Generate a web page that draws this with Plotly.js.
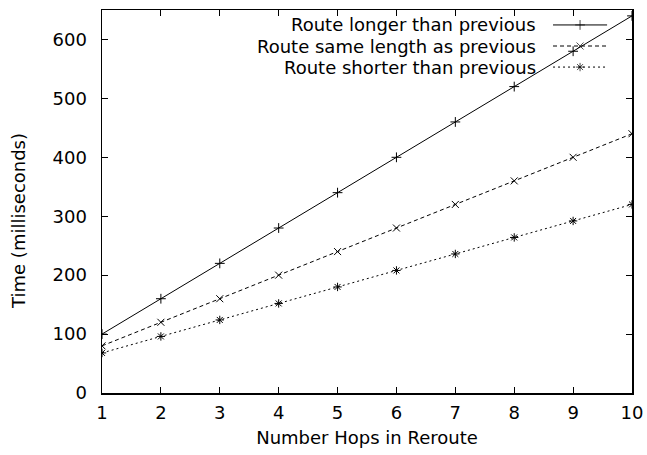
<!DOCTYPE html>
<html>
<head>
<meta charset="utf-8">
<script src="https://cdn.plot.ly/plotly-3.0.1.min.js"></script>
<style>html,body{margin:0;padding:0;background:#fff;}#chart{width:647px;height:455px;}</style>
</head>
<body>
<div id="chart"></div>
<script>
var hops = [1, 2, 3, 4, 5, 6, 7, 8, 9, 10];
var longerTimes = [100, 160, 220, 280, 340, 400, 460, 520, 580, 640];
var sameTimes = [80, 120, 160, 200, 240, 280, 320, 360, 400, 440];
var shorterTimes = [68, 96, 124, 152, 180, 208, 236, 264, 292, 320];
var seriesNames = ["Route longer than previous", "Route same length as previous", "Route shorter than previous"];
var xTicks = [1, 2, 3, 4, 5, 6, 7, 8, 9, 10];
var yTicks = [0, 100, 200, 300, 400, 500, 600];
var xTitle = "Number Hops in Reroute";
var yTitle = "Time (milliseconds)";

var dashes = ["solid", "4px,3px", "2px,3px"];
var symbols = ["cross-thin-open", "x-thin-open", "asterisk-open"];
var series = [longerTimes, sameTimes, shorterTimes];

var traces = [];
series.forEach(function (ys, i) {
  traces.push({
    x: hops, y: ys, type: "scatter", mode: "lines+markers",
    name: seriesNames[i], showlegend: false,
    line: {color: "#000", width: 1, dash: dashes[i]},
    marker: {symbol: symbols[i], size: 7, color: "#000", line: {color: "#000", width: 1}}
  });
});

var fontFam = "DejaVu Sans, Liberation Sans, Arial, sans-serif";
var axisFont = {family: fontFam, size: 18, color: "#000"};

// legend key samples (gnuplot style: text left, sample right)
var keyRows = [0.961, 0.906, 0.851];
var annotations = [];
keyRows.forEach(function (ky, i) {
  traces.push({
    x: [0.851, 0.902, 0.953], y: [ky, ky, ky], xaxis: "x2", yaxis: "y2",
    type: "scatter", mode: "lines+markers", showlegend: false, hoverinfo: "skip",
    line: {color: "#000", width: 1, dash: dashes[i]},
    marker: {symbol: symbols[i], size: [0, 7, 0], color: "#000", line: {color: "#000", width: 1}}
  });
  annotations.push({
    xref: "x2", yref: "y2", x: 0.8226, y: ky, xanchor: "right", yanchor: "middle",
    text: seriesNames[i], showarrow: false, font: axisFont
  });
});
annotations.push({
  xref: "paper", yref: "paper", x: -0.158, y: 0.45, xanchor: "center", yanchor: "middle",
  textangle: -90, text: yTitle, showarrow: false, font: axisFont
});

var layout = {
  width: 647, height: 455,
  margin: {l: 102, r: 15, t: 10, b: 62, pad: 0},
  paper_bgcolor: "#fff", plot_bgcolor: "#fff",
  showlegend: false,
  font: axisFont,
  xaxis: {
    range: [1, 10], tickvals: xTicks, ticktext: xTicks.map(String),
    ticks: "inside", ticklen: 6, tickwidth: 1, tickcolor: "#000",
    showline: true, linecolor: "#000", linewidth: 1.5, mirror: "ticks",
    showgrid: false, zeroline: false, tickfont: axisFont, ticklabelstandoff: 3,
    title: {text: xTitle, font: axisFont, standoff: 9}
  },
  yaxis: {
    range: [0, 650], tickvals: yTicks, ticktext: yTicks.map(String),
    ticks: "inside", ticklen: 6, tickwidth: 1, tickcolor: "#000",
    showline: true, linecolor: "#000", linewidth: 1.5, mirror: "ticks",
    showgrid: false, zeroline: false, tickfont: axisFont, ticklabelstandoff: 10
  },
  xaxis2: {overlaying: "x", range: [0, 1], visible: false, fixedrange: true},
  yaxis2: {overlaying: "y", range: [0, 1], visible: false, fixedrange: true},
  annotations: annotations
};

Plotly.newPlot("chart", traces, layout, {displayModeBar: false, staticPlot: true});
</script>
</body>
</html>
